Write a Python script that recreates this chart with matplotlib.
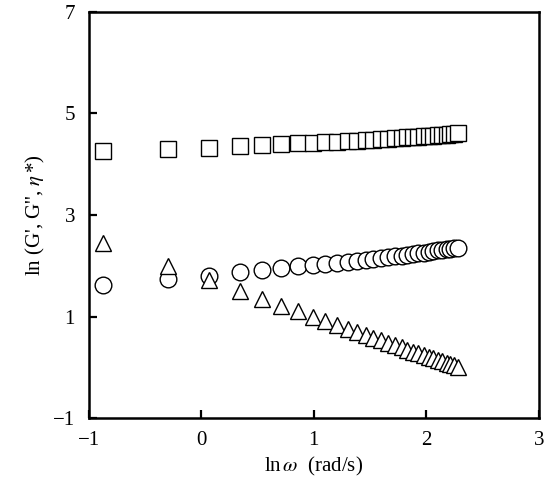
import matplotlib
matplotlib.use("Agg")
import matplotlib.pyplot as plt

# ln(omega) values of the frequency sweep
LN_W = [-0.87, -0.30, 0.07, 0.34, 0.54, 0.71, 0.86, 0.99, 1.10, 1.21,
        1.30, 1.38, 1.46, 1.53, 1.60, 1.66, 1.72, 1.78, 1.83, 1.88,
        1.93, 1.98, 2.02, 2.06, 2.10, 2.14, 2.18, 2.21, 2.25, 2.28]

# ln G' (squares)
LN_G1 = [4.26, 4.29, 4.31, 4.36, 4.38, 4.39, 4.41, 4.42, 4.43, 4.44,
         4.45, 4.46, 4.47, 4.48, 4.49, 4.50, 4.51, 4.52, 4.53, 4.53,
         4.54, 4.55, 4.56, 4.56, 4.57, 4.58, 4.58, 4.59, 4.60, 4.61]

# ln G'' (circles)
LN_G2 = [1.63, 1.73, 1.80, 1.87, 1.92, 1.95, 1.99, 2.01, 2.04, 2.06,
         2.08, 2.10, 2.12, 2.14, 2.15, 2.17, 2.19, 2.20, 2.22, 2.23,
         2.25, 2.26, 2.27, 2.29, 2.30, 2.31, 2.32, 2.33, 2.34, 2.35]

# ln eta* (triangles)
LN_ETA = [2.45, 2.00, 1.72, 1.50, 1.34, 1.21, 1.10, 1.00, 0.91, 0.83,
          0.76, 0.70, 0.64, 0.58, 0.53, 0.48, 0.44, 0.39, 0.35, 0.31,
          0.28, 0.24, 0.21, 0.18, 0.15, 0.12, 0.09, 0.07, 0.04, 0.01]

XTICKS = [-1, 0, 1, 2, 3]
YTICKS = [-1, 1, 3, 5, 7]

plt.rcParams["font.family"] = ["Liberation Serif", "DejaVu Serif"]
plt.rcParams["mathtext.fontset"] = "stix"

fig = plt.figure(figsize=(5.52, 4.93), dpi=100)
ax = fig.add_axes([0.161, 0.152, 0.815, 0.824])

mk = dict(linestyle="none", markerfacecolor="white", markeredgecolor="black",
          markeredgewidth=1.0)
ax.plot(LN_W, LN_G1, marker="s", markersize=11.5, **mk)
ax.plot(LN_W, LN_G2, marker="o", markersize=12, **mk)
ax.plot(LN_W, LN_ETA, marker="^", markersize=12, **mk)

ax.set_xlim(-1, 3)
ax.set_ylim(-1, 7)
ax.set_xticks(XTICKS)
ax.set_yticks(YTICKS)
ax.set_xticklabels(["\u22121", "0", "1", "2", "3"])
ax.set_yticklabels(["\u22121", "1", "3", "5", "7"])
ax.tick_params(direction="in", length=6, width=1.6, labelsize=15,
               top=False, right=False)
ax.tick_params(axis="x", pad=9)
ax.tick_params(axis="y", pad=10)
for sp in ax.spines.values():
    sp.set_linewidth(1.8)

ax.set_xlabel("ln$\\,\\omega$  (rad/s)", fontsize=15, labelpad=4)
ax.set_ylabel("ln (G', G'', $\\eta\\,$*)", fontsize=15, labelpad=4)

fig.savefig("out.png", dpi=100, facecolor="white")
